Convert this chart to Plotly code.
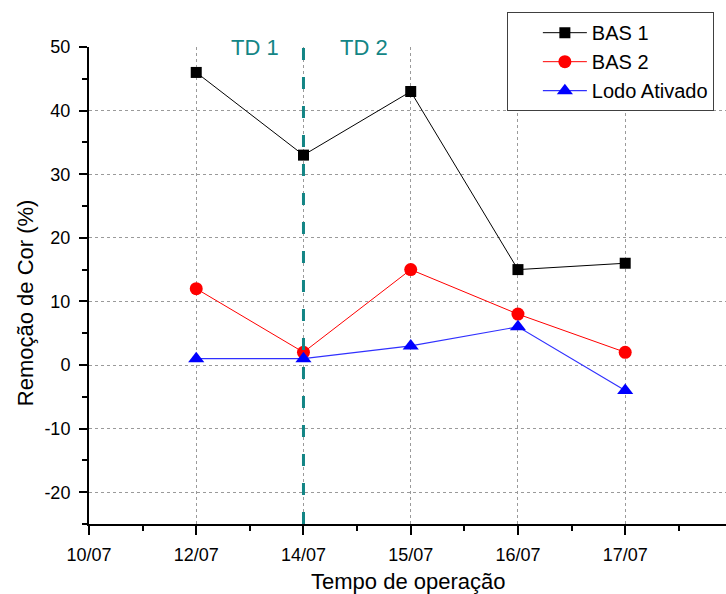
import plotly.graph_objects as go

# Sampling dates (category labels on an evenly spaced axis)
tick_labels = ["10/07", "12/07", "14/07", "15/07", "16/07", "17/07"]
tick_pos = [0, 1, 2, 3, 4, 5]

# Y tick values and their labels (plain hyphen for negatives)
y_ticks = [-20, -10, 0, 10, 20, 30, 40, 50]
y_tick_labels = ["-20", "-10", "0", "10", "20", "30", "40", "50"]

# Colour removal (%) per reactor, sampled on 12/07 .. 17/07
sample_pos = [1, 2, 3, 4, 5]
bas1 = [46, 33, 43, 15, 16]
bas2 = [12, 2, 15, 8, 2]
lodo_ativado = [1, 1, 3, 6, -4]

# Position of the change from TD 1 to TD 2 (14/07)
td_split = 2
x_range = [0, 5.94]
y_range = [-25, 50]

FONT = "Liberation Sans, Arial, sans-serif"
TEAL = "#138585"

fig = go.Figure()
fig.add_trace(go.Scatter(
    x=sample_pos, y=bas1, name="BAS 1", mode="lines+markers",
    line=dict(color="black", width=1),
    marker=dict(symbol="square", size=11, color="black"),
    cliponaxis=False,
))
fig.add_trace(go.Scatter(
    x=sample_pos, y=bas2, name="BAS 2", mode="lines+markers",
    line=dict(color="red", width=1),
    marker=dict(symbol="circle", size=13, color="red"),
    cliponaxis=False,
))
fig.add_trace(go.Scatter(
    x=sample_pos, y=lodo_ativado, name="Lodo Ativado", mode="lines+markers",
    line=dict(color="#3030ff", width=1.2),
    marker=dict(symbol="triangle-up", size=14, color="blue"),
    cliponaxis=False,
))

# Dashed divider between the two operating phases
split_frac = (td_split - x_range[0]) / (x_range[1] - x_range[0])
fig.add_shape(
    type="line", xref="x domain", yref="paper",
    x0=split_frac, x1=split_frac, y0=0, y1=1.021,
    line=dict(color=TEAL, width=3, dash="12px,17px"),
    layer="above",
)
fig.add_annotation(x=1.55, y=50, xref="x", yref="y", text="TD 1",
                   showarrow=False, font=dict(family=FONT, size=22, color=TEAL),
                   yanchor="middle")
fig.add_annotation(x=2.56, y=50, xref="x", yref="y", text="TD 2",
                   showarrow=False, font=dict(family=FONT, size=22, color=TEAL),
                   yanchor="middle")

# Axis titles
fig.add_annotation(x=0.5, y=-0.12, xref="paper", yref="paper",
                   text="Tempo de operação", showarrow=False,
                   font=dict(family=FONT, size=22, color="black"),
                   xanchor="center", yanchor="middle")
fig.add_annotation(x=-0.1005, y=0.465, xref="paper", yref="paper",
                   text="Remoção de Cor (%)", showarrow=False, textangle=-90,
                   font=dict(family=FONT, size=22, color="black"),
                   xanchor="center", yanchor="middle")

fig.update_xaxes(
    range=x_range, tickvals=tick_pos, ticktext=tick_labels,
    showline=True, linecolor="black", linewidth=2,
    ticks="outside", ticklen=9, tickwidth=2, tickcolor="black",
    ticklabelstandoff=4,
    tickfont=dict(family=FONT, size=18, color="black"),
    showgrid=True, gridcolor="#9a9a9a", griddash="dot", gridwidth=1,
    zeroline=False,
    minor=dict(dtick=0.5, tick0=0, ticks="outside", ticklen=5, tickwidth=2,
               tickcolor="black", showgrid=False),
)
fig.update_yaxes(
    range=y_range, tickvals=y_ticks, ticktext=y_tick_labels,
    showline=True, linecolor="black", linewidth=2,
    ticks="outside", ticklen=8, tickwidth=2, tickcolor="black",
    ticklabelstandoff=5,
    tickfont=dict(family=FONT, size=18, color="black"),
    showgrid=True, gridcolor="#9a9a9a", griddash="dot", gridwidth=1,
    zeroline=False,
    minor=dict(dtick=5, tick0=0, ticks="outside", ticklen=5, tickwidth=2,
               tickcolor="black", showgrid=False),
)

fig.update_layout(
    width=726, height=594,
    margin=dict(l=89, r=0, t=47, b=70),
    paper_bgcolor="white", plot_bgcolor="white",
    font=dict(family=FONT, color="black"),
    showlegend=True,
    legend=dict(
        x=0.656, y=1.073, xanchor="left", yanchor="top",
        bgcolor="white", bordercolor="#404040", borderwidth=1,
        font=dict(family=FONT, size=20, color="black"),
        indentation=30, itemwidth=44,
        tracegroupgap=0,
    ),
)

fig.write_html("out.html")
